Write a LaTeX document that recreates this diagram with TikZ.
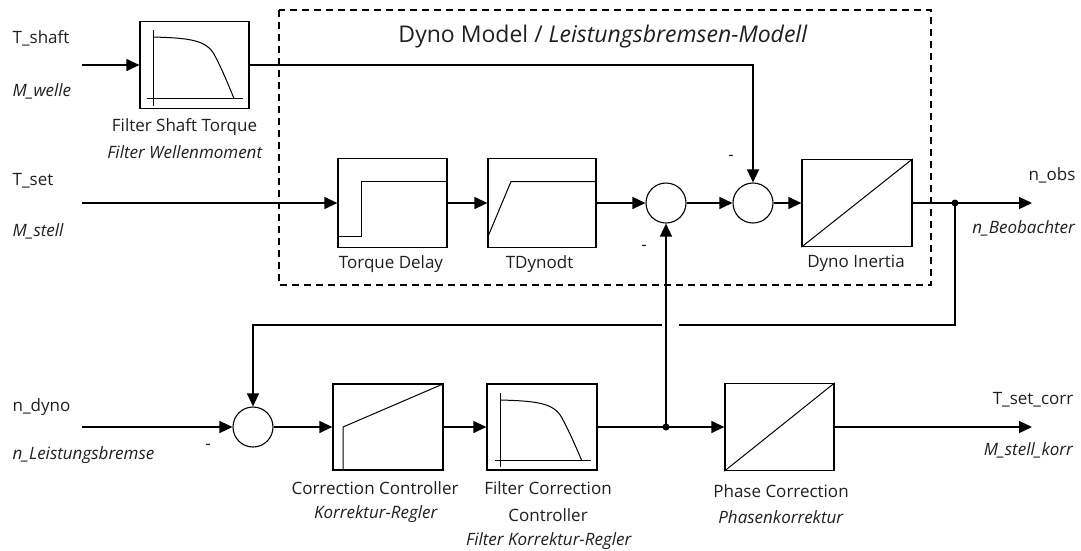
\documentclass[tikz,border=0pt]{standalone}
\usepackage{fontspec}
\setmainfont{Open Sans}
\usetikzlibrary{arrows.meta}
\begin{document}
\begin{tikzpicture}[x=1pt,y=-1pt,
  line width=1.3pt,
  font=\fontsize{17}{20}\selectfont,
  blk/.style={draw, line width=1.3pt, minimum width=109pt, minimum height=87pt, inner sep=0pt},
  sumn/.style={draw, line width=1.1pt, circle, minimum size=40pt, inner sep=0pt},
  arr/.style={-{Triangle[length=13pt,width=12pt]}},
  icon/.style={line width=1pt},
  lbl/.style={inner sep=0pt, text=black!88},
  dot/.style={circle, fill=black, minimum size=7pt, inner sep=0pt},
  dbox/.style={dashed, dash pattern=on 7pt off 5pt, line width=1.2pt}
]
\useasboundingbox (0,0) rectangle (1081,550);
% dashed model box
\draw[dbox] (279,10) rectangle (931,285);
\node[lbl, font=\fontsize{23}{26}\selectfont] (title) at (603,37) {Dyno Model / \textit{Leistungsbremsen-Modell}};

% blocks
\node[blk] (fs) at (194.5,65) {};
\node[blk, minimum height=89pt] (td) at (392.5,203) {};
\node[blk, minimum height=89pt, minimum width=108pt] (tdy) at (542,203) {};
\node[sumn] (s1) at (666,203) {};
\node[sumn] (s2) at (753,203) {};
\node[blk, minimum width=110pt] (di) at (857,203) {};
\node[sumn] (s3) at (253,427) {};
\node[blk, minimum width=110pt, minimum height=86pt] (cc) at (388,427) {};
\node[blk, minimum width=110pt, minimum height=86pt] (fc) at (542,427) {};
\node[blk] (ph) at (779.5,427) {};
\node[dot] (d1) at (955,203) {};
\node[dot] (d2) at (666,427) {};

% icons
\begin{scope}[shift={(fs.center)}, icon]
  \draw (-41.5,-35.5) -- (-41.5,40.5);
  \draw (-47.5,33.5) -- (48.5,33.5);
  \draw (-41.5,-28) .. controls (-5,-27) and (12,-25) .. (20,-10) .. controls (27,3) and (34,20) .. (39.5,33.5);
\end{scope}
\begin{scope}[shift={(fc.center)}, icon]
  \draw (-41.5,-34.5) -- (-41.5,40);
  \draw (-47.5,33) -- (48.5,33);
  \draw (-41.5,-27) .. controls (-5,-26) and (12,-24) .. (20,-9) .. controls (27,4) and (34,20) .. (39.5,33);
\end{scope}
\begin{scope}[shift={(td.center)}, icon]
  \draw (-54.5,33.5) -- (-31.5,33.5) -- (-31.5,-21.5) -- (54.5,-21.5);
\end{scope}
\begin{scope}[shift={(tdy.center)}, icon]
  \draw (-54,33.5) -- (-31,-21.5) -- (54,-21.5);
\end{scope}
\begin{scope}[shift={(cc.center)}, icon]
  \draw (-45,43) -- (-45,0) -- (55,-43);
\end{scope}
\draw[icon] (di.south west) -- (di.north east);
\draw[icon] (ph.south west) -- (ph.north east);

% free ends
\coordinate (in1) at (82,65);
\coordinate (in2) at (82,203);
\coordinate (in3) at (82,427);
\coordinate (out1) at (1032,203);
\coordinate (out2) at (1032,427);
\coordinate (gapR) at (679,325);
\coordinate (gapL) at (662,325);

% connectors
\draw[arr] (in1) -- (fs.west);
\draw[arr] (fs.east) -| (s2.north);
\draw[arr] (in2) -- (td.west);
\draw[arr] (td.east) -- (tdy.west);
\draw[arr] (tdy.east) -- (s1.west);
\draw[arr] (s1.east) -- (s2.west);
\draw[arr] (s2.east) -- (di.west);
\draw[arr] (di.east) -- (out1);
\draw (d1.center) |- (gapR);
\draw[arr] (gapL) -| (s3.north);
\draw[arr] (in3) -- (s3.west);
\draw[arr] (s3.east) -- (cc.west);
\draw[arr] (cc.east) -- (fc.west);
\draw (fc.east) -- (d2.center);
\draw[arr] (d2.center) -- (ph.west);
\draw[arr] (d2.center) -- (s1.south);
\draw[arr] (ph.east) -- (out2);

% side labels
\node[lbl, anchor=west] (l1) at (12,38) {T\_shaft};
\node[lbl, anchor=west] (l2) at (12,91) {\textit{M\_welle}};
\node[lbl, anchor=west] (l3) at (12,181) {T\_set};
\node[lbl, anchor=west] (l4) at (12,231) {\textit{M\_stell}};
\node[lbl, anchor=west] (l5) at (12,407) {n\_dyno};
\node[lbl, anchor=west] (l6) at (12,455) {\textit{n\_Leistungsbremse}};
\node[lbl, anchor=east] (r1) at (1076,175) {n\_obs};
\node[lbl, anchor=east] (r2) at (1076,228) {\textit{n\_Beobachter}};
\node[lbl, anchor=east] (r3) at (1074,400) {T\_set\_corr};
\node[lbl, anchor=east] (r4) at (1074,450) {\textit{M\_stell\_korr}};

% block labels
\node[lbl] (fsl1) at (184.5,127) {Filter Shaft Torque};
\node[lbl] (fsl2) at (185,152) {\textit{Filter Wellenmoment}};
\node[lbl] (tdl) at (391,264) {Torque Delay};
\node[lbl] (tdyl) at (539.5,264) {TDynodt};
\node[lbl] (dil) at (856,263) {Dyno Inertia};
\node[lbl] (ccl1) at (375,488) {Correction Controller};
\node[lbl] (ccl2) at (376,514) {\textit{Korrektur-Regler}};
\node[lbl] (fcl1) at (548,488) {Filter Correction};
\node[lbl] (fcl2) at (548,515) {Controller};
\node[lbl] (fcl3) at (549,541) {\textit{Filter Korrektur-Regler}};
\node[lbl] (phl1) at (781,491) {Phase Correction};
\node[lbl] (phl2) at (781,517) {\textit{Phasenkorrektur}};

% minus signs
\node[lbl] (m1) at (731,158) {-};
\node[lbl] (m2) at (644,248) {-};
\node[lbl] (m3) at (208,447) {-};
\end{tikzpicture}
\end{document}
